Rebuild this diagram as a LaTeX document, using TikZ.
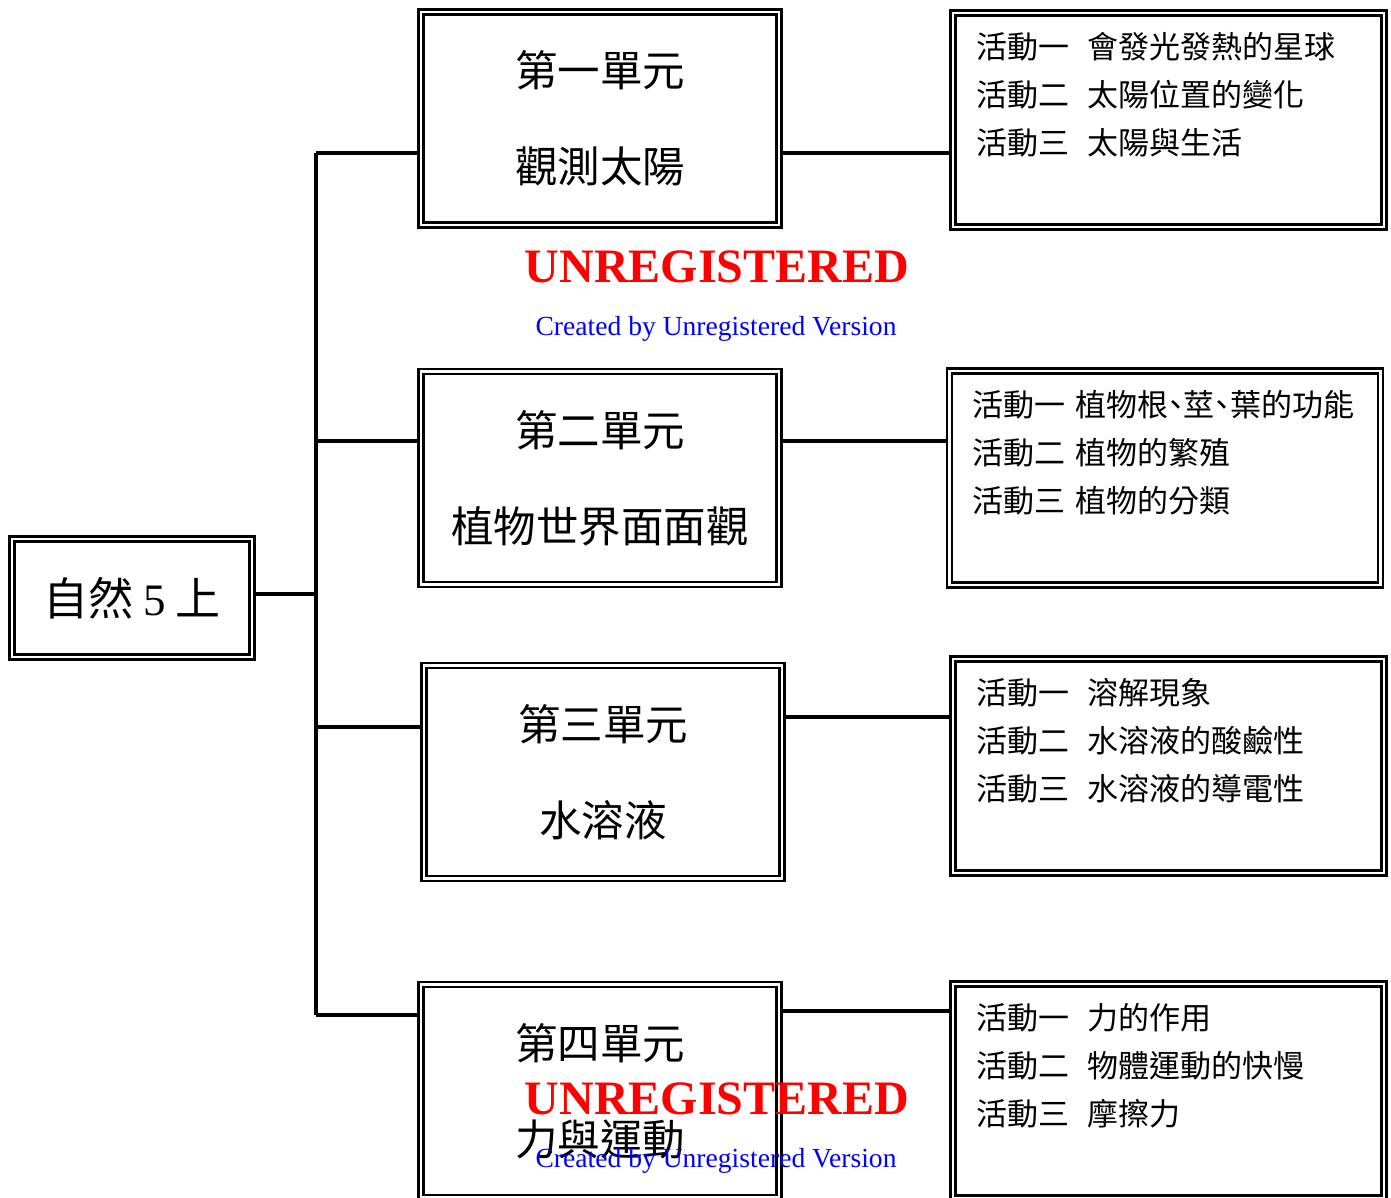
\documentclass[tikz,border=0pt]{standalone}
\usepackage{fontspec}
\setmainfont{Liberation Serif}
\newfontfamily\cjk{Noto Sans CJK TC}
\newcommand{\dun}{\makebox[.5em][c]{、}}
\usetikzlibrary{positioning}
\begin{document}
\begin{tikzpicture}[x=0.5pt,y=-0.5pt,
    dbox/.style={draw, line width=1.2pt, double, double distance=1.2pt, inner sep=0pt},
    rbox/.style={dbox, minimum width=120pt, minimum height=59pt, font=\cjk\fontsize{22.5}{27}\selectfont},
    ubox/.style={dbox, minimum width=179pt, minimum height=106.5pt, align=center, font=\cjk\fontsize{21.25}{48}\selectfont},
    abox/.style={dbox, minimum width=215.5pt, minimum height=107pt},
    atext/.style={inner sep=0pt, align=left, font=\cjk\fontsize{15.5}{24}\selectfont},
    link/.style={line width=1.6pt},
    wmbig/.style={text=red, font=\bfseries\fontsize{24}{28}\selectfont},
    wmsmall/.style={text=blue, font=\fontsize{13.8}{16}\selectfont}]
    \useasboundingbox (0,0) rectangle (1391,1198);
    % root
    \node[rbox] (root) at (132,598) {自然 {\rmfamily 5} 上};
    % units
    \node[ubox] (u1) at (600,118.5) {第一單元\\觀測太陽};
    \node[ubox] (u2) at (600,478) {第二單元\\植物世界面面觀};
    \node[ubox] (u3) at (603,772) {第三單元\\水溶液};
    \node[ubox] (u4) at (600,1091) {第四單元\\力與運動};
    % activities
    \node[abox] (a1) at (1168.5,120) {};
    \node[abox] (a2) at (1165,478) {};
    \node[abox] (a3) at (1168.5,766) {};
    \node[abox] (a4) at (1168.5,1091) {};
    \node[atext, below right=10pt and 12pt of a1.north west] (t1) {活動一\hspace{.6em}會發光發熱的星球\\活動二\hspace{.6em}太陽位置的變化\\活動三\hspace{.6em}太陽與生活};
    \node[atext, below right=10pt and 12pt of a2.north west] (t2) {活動一\hspace{.3em}植物根\dun 莖\dun 葉的功能\\活動二\hspace{.3em}植物的繁殖\\活動三\hspace{.3em}植物的分類};
    \node[atext, below right=10pt and 12pt of a3.north west] (t3) {活動一\hspace{.6em}溶解現象\\活動二\hspace{.6em}水溶液的酸鹼性\\活動三\hspace{.6em}水溶液的導電性};
    \node[atext, below right=10pt and 12pt of a4.north west] (t4) {活動一\hspace{.6em}力的作用\\活動二\hspace{.6em}物體運動的快慢\\活動三\hspace{.6em}摩擦力};
    % trunk and branches
    \coordinate (b1) at (316,153);
    \coordinate (b2) at (316,441);
    \coordinate (b3) at (316,727);
    \coordinate (b4) at (316,1015);
    \coordinate (br) at (316,594);
    \draw[link] (b1) -- (b4);
    \draw[link] (root.east |- br) -- (br);
    \draw[link] (b1) -- (b1 -| u1.west);
    \draw[link] (b2) -- (b2 -| u2.west);
    \draw[link] (b3) -- (b3 -| u3.west);
    \draw[link] (b4) -- (b4 -| u4.west);
    \draw[link] (b1 -| u1.east) -- (b1 -| a1.west);
    \draw[link] (b2 -| u2.east) -- (b2 -| a2.west);
    \draw[link] (u3.east |- 0,717) -- (a3.west |- 0,717);
    \draw[link] (u4.east |- 0,1011) -- (a4.west |- 0,1011);
    % watermarks
    \node[wmbig] (w1) at (717,267) {UNREGISTERED};
    \node[wmsmall] (w2) at (716,329) {Created by Unregistered Version};
    \node[wmbig] (w3) at (717,1099) {UNREGISTERED};
    \node[wmsmall] (w4) at (716,1161) {Created by Unregistered Version};
\end{tikzpicture}
\end{document}
